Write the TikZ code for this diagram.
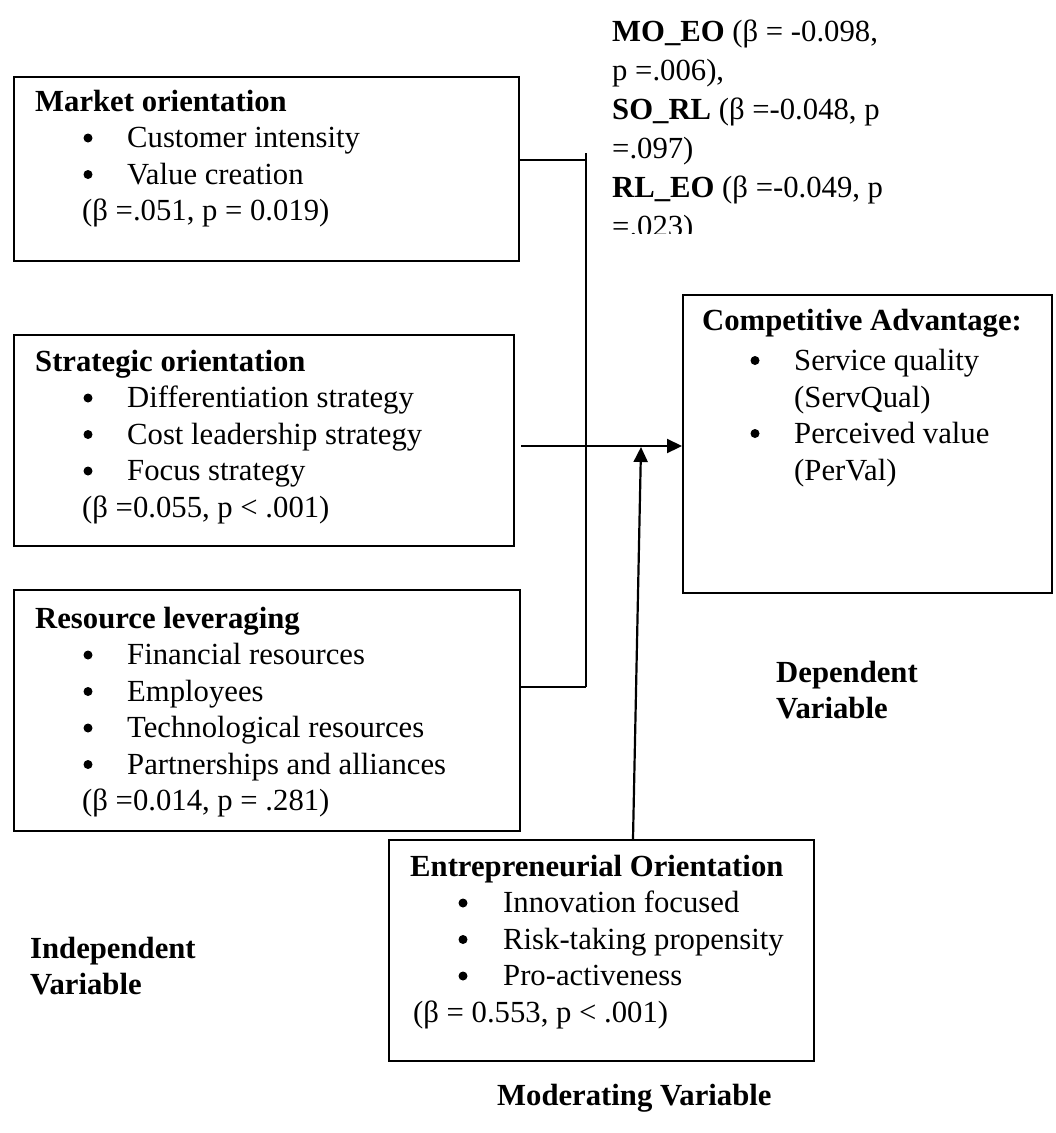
\documentclass[tikz,border=0pt]{standalone}
\usepackage{fontspec}
\setmainfont{Liberation Serif}
\usetikzlibrary{arrows.meta}
\begin{document}
\begin{tikzpicture}[x=1pt,y=-1pt,
  box/.style={draw, line width=2.2pt, rectangle, anchor=north west, inner sep=0pt},
  txt/.style={anchor=base west, inner sep=0pt, font=\fontsize{30.7}{36.7}\selectfont},
  hdr/.style={txt, font=\fontsize{30.7}{36.7}\selectfont\bfseries},
  bul/.style={anchor=center, inner sep=0pt, circle, fill, minimum size=9pt},
  conn/.style={line width=2.2pt},
  arr/.style={line width=2.2pt, -{Triangle[length=15pt,width=14pt]}}]
\useasboundingbox (0,0) rectangle (1056,1133);

% ---- boxes
\node[box, minimum width=505pt, minimum height=184pt] (mo) at (13,76) {};
\node[box, minimum width=500pt, minimum height=211pt] (so) at (13,334) {};
\node[box, minimum width=506pt, minimum height=241pt] (rl) at (13,589) {};
\node[box, minimum width=369pt, minimum height=298pt] (ca) at (682,294) {};
\node[box, minimum width=425pt, minimum height=221pt] (eo) at (388,839) {};

% ---- market orientation
\node[hdr] (mo0) at (35,111) {Market orientation};
\node[bul] (mob1) at (88,138) {};
\node[txt] (mo1) at (127,147.5) {Customer intensity};
\node[bul] (mob2) at (88,174.5) {};
\node[txt] (mo2) at (127,184) {Value creation};
\node[txt] (mo3) at (82,220.5) {(β =.051, p = 0.019)};

% ---- strategic orientation
\node[hdr] (so0) at (35,371) {Strategic orientation};
\node[bul] (sob1) at (88,398) {};
\node[txt] (so1) at (127,407.5) {Differentiation strategy};
\node[bul] (sob2) at (88,434.5) {};
\node[txt] (so2) at (127,444) {Cost leadership strategy};
\node[bul] (sob3) at (88,471) {};
\node[txt] (so3) at (127,480.5) {Focus strategy};
\node[txt] (so4) at (82,517) {(β =0.055, p < .001)};

% ---- resource leveraging
\node[hdr] (rl0) at (35,628) {Resource leveraging};
\node[bul] (rlb1) at (88,655) {};
\node[txt] (rl1) at (127,664.5) {Financial resources};
\node[bul] (rlb2) at (88,691.5) {};
\node[txt] (rl2) at (127,701) {Employees};
\node[bul] (rlb3) at (88,728) {};
\node[txt] (rl3) at (127,737.5) {Technological resources};
\node[bul] (rlb4) at (88,764.5) {};
\node[txt] (rl4) at (127,774) {Partnerships and alliances};
\node[txt] (rl5) at (82,810.5) {(β =0.014, p = .281)};

% ---- competitive advantage
\node[hdr] (ca0) at (702,330) {Competitive Advantage:};
\node[bul] (cab1) at (755,360.5) {};
\node[txt] (ca1) at (794,370) {Service quality};
\node[txt] (ca2) at (794,407) {(ServQual)};
\node[bul] (cab2) at (755,433.5) {};
\node[txt] (ca3) at (794,443) {Perceived value};
\node[txt] (ca4) at (794,480) {(PerVal)};

% ---- entrepreneurial orientation
\node[hdr] (eo0) at (410,876) {Entrepreneurial Orientation};
\node[bul] (eob1) at (463,903) {};
\node[txt] (eo1) at (503,912.5) {Innovation focused};
\node[bul] (eob2) at (463,939.5) {};
\node[txt] (eo2) at (503,949) {Risk-taking propensity};
\node[bul] (eob3) at (463,976) {};
\node[txt] (eo3) at (503,985.5) {Pro-activeness};
\node[txt] (eo4) at (413,1022) {(β = 0.553, p < .001)};

% ---- labels
\node[hdr] (dv1) at (776,682) {Dependent};
\node[hdr] (dv2) at (776,718) {Variable};
\node[hdr] (iv1) at (30,958) {Independent};
\node[hdr] (iv2) at (30,994) {Variable};
\node[hdr] (mv) at (497,1105) {Moderating Variable};

% ---- interaction effects (clipped text frame)
\begin{scope}
\clip (600,-5) rectangle (950,233);
\node[txt] (ie1) at (612,41) {\textbf{MO\_EO} (β = -0.098,};
\node[txt] (ie2) at (612,80) {p =.006),};
\node[txt] (ie3) at (612,119) {\textbf{SO\_RL} (β =-0.048, p};
\node[txt] (ie4) at (612,158) {=.097)};
\node[txt] (ie5) at (612,197) {\textbf{RL\_EO} (β =-0.049, p};
\node[txt] (ie6) at (612,236) {=.023)};
\end{scope}

% ---- connectors
\coordinate (jtop) at (586,153);
\coordinate (jmo) at (586,160);
\coordinate (jrl) at (586,687);
\coordinate (ah) at (600,446);
\coordinate (eoa) at (633,839);
\coordinate (tip) at (641,447);
\draw[conn] (mo.east |- jmo) -- (jmo);
\draw[conn] (jtop) -- (jrl);
\draw[conn] (rl.east |- jrl) -- (jrl);
\draw[arr] ([xshift=6pt]so.east |- ah) -- (ca.west |- ah);
\draw[arr] (eoa) -- (tip);
\end{tikzpicture}
\end{document}
